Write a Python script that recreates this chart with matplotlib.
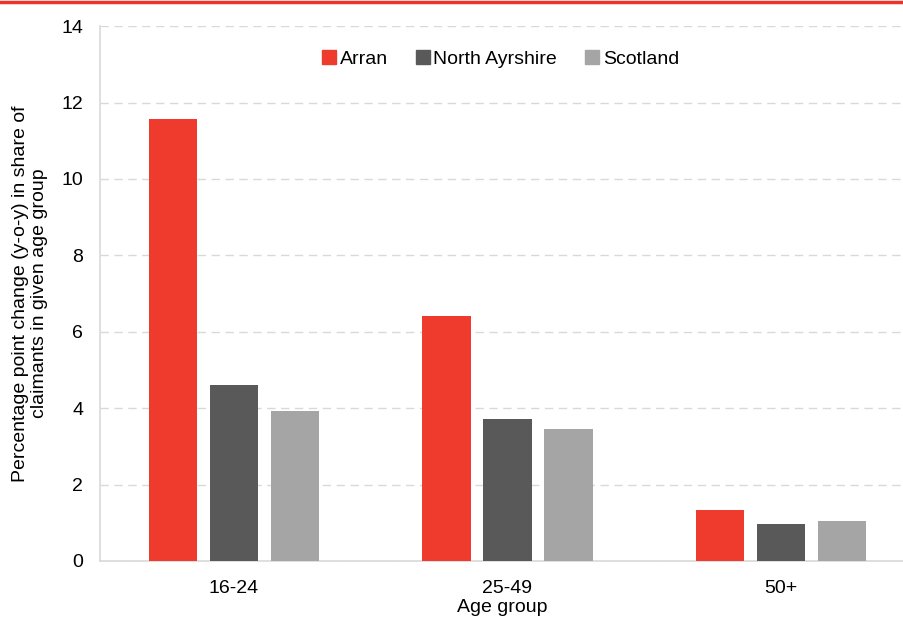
import numpy as np
import matplotlib
matplotlib.use("Agg")
import matplotlib.pyplot as plt
from matplotlib.lines import Line2D

plt.rcParams['font.family'] = ['Liberation Sans', 'DejaVu Sans']

age_groups = ['16-24', '25-49', '50+']
series = ['Arran', 'North Ayrshire', 'Scotland']
arran = [11.57, 6.41, 1.34]
north_ayrshire = [4.62, 3.72, 0.96]
scotland = [3.92, 3.45, 1.05]
colors = ['#EE3B2E', '#595959', '#A5A5A5']

fig = plt.figure(figsize=(9.04, 6.19), dpi=100)
ax = fig.add_axes([0.1106, 0.0937, 0.8894, 0.864])

x = np.arange(len(age_groups))
step = 0.223
width = 0.176
for i, (vals, c) in enumerate(zip([arran, north_ayrshire, scotland], colors)):
    ax.bar(x + (i - 1) * step, vals, width, color=c, zorder=3, label=series[i])

ax.set_xlim(-0.49, 2.45)
ax.set_ylim(0, 14)
ax.set_yticks(range(0, 15, 2))
ax.set_xticks(x)
ax.set_xticklabels(age_groups)
ax.tick_params(axis='both', length=0, labelsize=14)
ax.tick_params(axis='y', pad=12)
ax.tick_params(axis='x', pad=14)
ax.grid(axis='y', color='#D9D9D9', linestyle=(0, (6, 4)), linewidth=1, zorder=0)
for s in ['top', 'right']:
    ax.spines[s].set_visible(False)
for s in ['left', 'bottom']:
    ax.spines[s].set_color('#D9D9D9')
    ax.spines[s].set_linewidth(1.2)

ax.set_xlabel('Age group', fontsize=14, labelpad=1)
ax.set_ylabel('Percentage point change (y-o-y) in share of\nclaimants in given age group',
              fontsize=14, labelpad=10, linespacing=1.1)

handles = [Line2D([], [], marker='s', linestyle='none', markersize=10,
                  markerfacecolor=c, markeredgecolor=c) for c in colors]
ax.legend(handles, series, loc='center', bbox_to_anchor=(0.552, 0.905),
          bbox_transform=fig.transFigure, ncol=3, frameon=False, fontsize=14,
          handletextpad=0.05, columnspacing=1.3, handlelength=1.0)

# red rule along the top
fig.add_artist(Line2D([0, 1], [0.9965, 0.9965], transform=fig.transFigure,
                      color='#E8342B', linewidth=2.5))

fig.savefig('out.png', dpi=100)
